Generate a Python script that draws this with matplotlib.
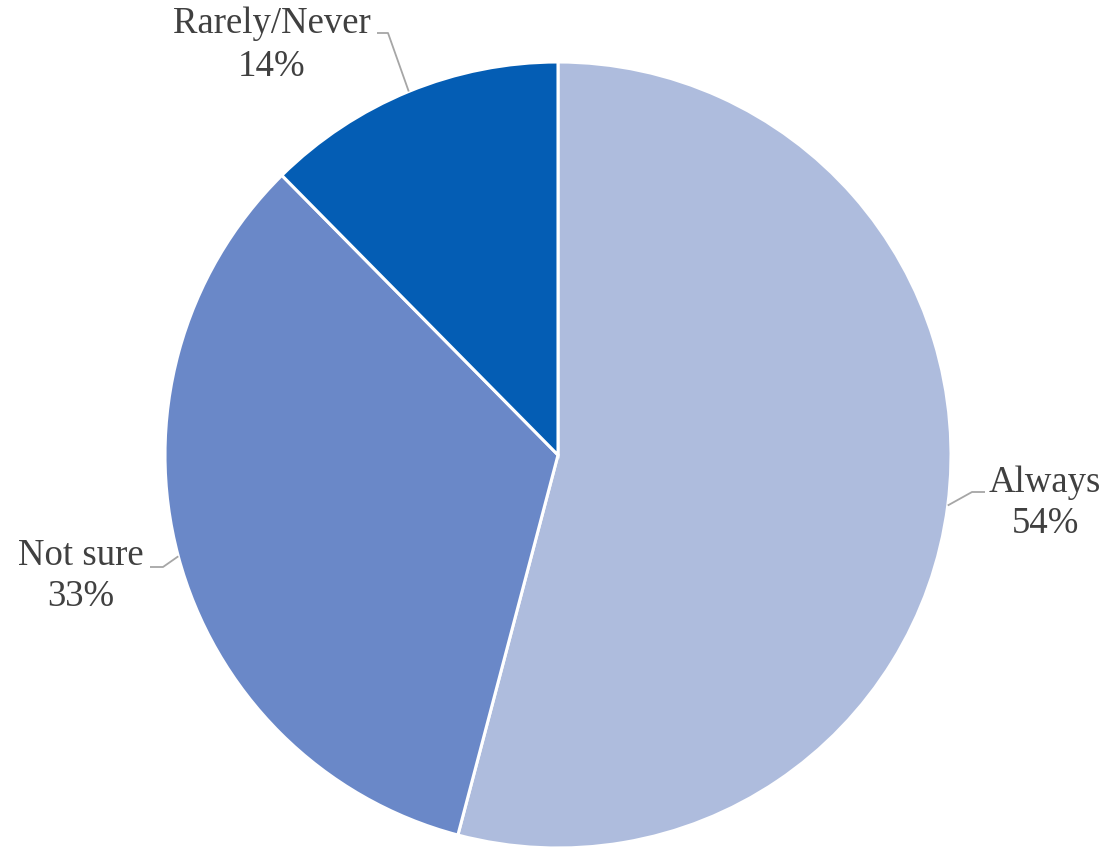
import numpy as np
import matplotlib
matplotlib.use("Agg")
import matplotlib.pyplot as plt

categories = ["Always", "Not sure", "Rarely/Never"]
shares = [54.1, 33.5, 12.4]          # wedge sizes
pct_labels = ["54%", "33%", "14%"]   # data labels as printed
colors = ["#AEBCDD", "#6A88C8", "#045DB4"]

W, H = 1109, 849
fig = plt.figure(figsize=(W / 100, H / 100), dpi=100)
ax = fig.add_axes([0, 0, 1, 1])
ax.set_xlim(0, W)
ax.set_ylim(0, H)
ax.set_aspect("equal")
ax.axis("off")

cx, cy, R = 558, H - 455, 393
wedges, _ = ax.pie(shares, colors=colors, startangle=90, counterclock=False,
                   center=(cx, cy), radius=R, frame=True,
                   wedgeprops=dict(edgecolor="white", linewidth=2.2))
ax.set_xlim(0, W)
ax.set_ylim(0, H)
ax.axis("off")

# label layout: (text center x, baseline y of name, baseline of pct, elbow, line end)
layout = [
    dict(tx=1045, y1=492, y2=533, elbow=(972, 492), end=(985, 492)),
    dict(tx=81, y1=565, y2=606, elbow=(163, 567), end=(150, 567)),
    dict(tx=272, y1=33, y2=76, elbow=(388, 33), end=(377, 33)),
]

txtcol = "#404040"
for w, name, pct, L in zip(wedges, categories, pct_labels, layout):
    mid = np.deg2rad((w.theta1 + w.theta2) / 2)
    sx = cx + R * np.cos(mid)
    sy = cy + R * np.sin(mid)
    ex, ey = L["elbow"]
    fx, fy = L["end"]
    ax.plot([sx, ex, fx], [sy, H - ey, H - fy], color="#A6A6A6", lw=1.3,
            solid_capstyle="butt", zorder=5)
    ax.text(L["tx"], H - L["y1"], name, ha="center", va="baseline",
            fontsize=26.5, family="Liberation Serif", color=txtcol)
    ax.text(L["tx"], H - L["y2"], pct, ha="center", va="baseline",
            fontsize=26.5, family="Liberation Serif", color=txtcol)

fig.savefig("out.png", dpi=100, facecolor="white")
